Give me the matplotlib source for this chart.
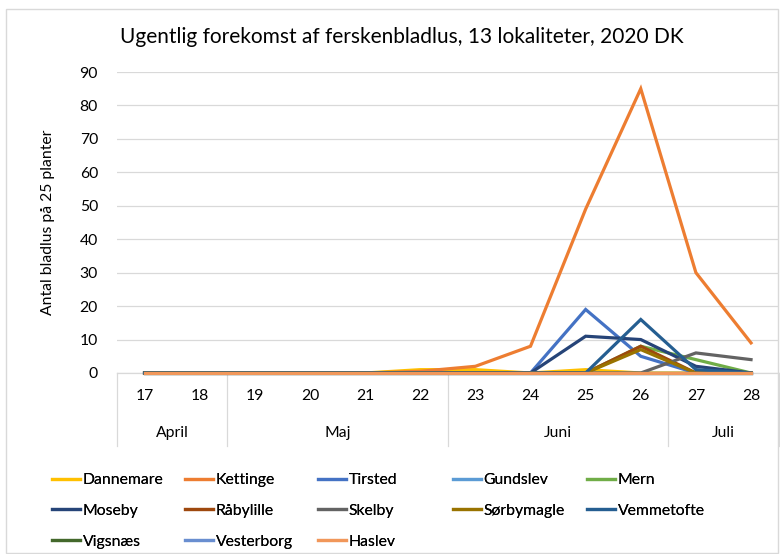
import matplotlib
matplotlib.use("Agg")
import matplotlib.pyplot as plt
from matplotlib.lines import Line2D

plt.rcParams['font.family'] = ['Lato', 'DejaVu Sans']

weeks = ["17", "18", "19", "20", "21", "22", "23", "24", "25", "26", "27", "28"]
months = ["April", "Maj", "Juni", "Juli"]
month_spans = [2, 4, 4, 2]

series_names = ["Dannemare", "Kettinge", "Tirsted", "Gundslev", "Mern",
                "Moseby", "Råbylille", "Skelby", "Sørbymagle", "Vemmetofte",
                "Vigsnæs", "Vesterborg", "Haslev"]

dannemare  = [0, 0, 0, 0, 0, 1, 1, 0, 1, 0, 0, 0]
kettinge   = [0, 0, 0, 0, 0, 0.5, 2, 8, 49, 85, 30, 9]
tirsted    = [0, 0, 0, 0, 0, 0, 0, 0, 19, 5, 0, 0]
gundslev   = [0, 0, 0, 0, 0, 0, 0, 0, 0, 0, 0, 0]
mern       = [0, 0, 0, 0, 0, 0, 0, 0, 0, 8, 4, 0]
moseby     = [0, 0, 0, 0, 0, 0, 0, 0, 11, 10, 2, 0]
raabylille = [0, 0, 0, 0, 0, 0, 0, 0, 0, 8, 0, 0]
skelby     = [0, 0, 0, 0, 0, 0, 0, 0, 0, 0, 6, 4]
soerbymagle = [0, 0, 0, 0, 0, 0, 0, 0, 0, 7, 0, 0]
vemmetofte = [0, 0, 0, 0, 0, 0, 0, 0, 0, 16, 1, 0]
vigsnaes   = [0, 0, 0, 0, 0, 0, 0, 0, 0, 0, 0, 0]
vesterborg = [0, 0, 0, 0, 0, 0, 0, 0, 0, 0, 0, 0]
haslev     = [0, 0, 0, 0, 0, 0, 0, 0, 0, 0, 0, 0]

series_values = [dannemare, kettinge, tirsted, gundslev, mern, moseby, raabylille,
                 skelby, soerbymagle, vemmetofte, vigsnaes, vesterborg, haslev]
colors = ["#FFC000", "#ED7D31", "#4472C4", "#5B9BD5", "#70AD47", "#264478",
          "#9E480E", "#636363", "#997300", "#255E91", "#43682B", "#698ED0", "#F1975A"]

W, H = 780, 554
FS = 11.3
fig = plt.figure(figsize=(W / 100, H / 100), dpi=100)
fig.patch.set_facecolor("white")

# chart border
fig.add_artist(plt.Rectangle((6 / W, 1 / H), 772 / W, 544 / H, fill=False,
                             edgecolor="#D9D9D9", linewidth=1, transform=fig.transFigure))

left, right = 117 / W, 778.6 / W
bottom, top = 1 - 373 / H, 1 - 72 / H
ax = fig.add_axes([left, bottom, right - left, top - bottom])

x = list(range(len(weeks)))
handles = []
for name, vals, c in zip(series_names, series_values, colors):
    ln, = ax.plot(x, vals, color=c, linewidth=2.3, label=name, solid_joinstyle="miter",
                  clip_on=False, zorder=3)
    handles.append(ln)

ax.set_xlim(-0.5, len(weeks) - 0.5)
ax.set_ylim(0, 90)
ax.set_yticks(range(0, 91, 10))
ax.tick_params(axis="y", length=0, labelsize=FS, pad=13.7, colors="#000000")
ax.set_xticks([])
ax.yaxis.grid(True, color="#D9D9D9", linewidth=0.9)
ax.set_axisbelow(True)
for s in ["left", "right", "top"]:
    ax.spines[s].set_visible(False)
ax.spines["bottom"].set_color("#D9D9D9")
ax.spines["bottom"].set_linewidth(0.9)

ax.set_ylabel("Antal bladlus på 25 planter", fontsize=FS, labelpad=18)

# multi-level category axis
tr = ax.get_xaxis_transform()
sep_bottom = -73 / 301
for i, w in enumerate(weeks):
    ax.text(i, -23 / 301, w, transform=tr, ha="center", va="center", fontsize=FS)
pos = -0.5
ax.add_line(Line2D([pos, pos], [0, sep_bottom], transform=tr, color="#D9D9D9",
                   linewidth=0.9, clip_on=False))
for m, span in zip(months, month_spans):
    ax.text(pos + span / 2, -60 / 301, m, transform=tr, ha="center", va="center",
            fontsize=FS)
    pos += span
    ax.add_line(Line2D([pos, pos], [0, sep_bottom], transform=tr, color="#D9D9D9",
                       linewidth=0.9, clip_on=False))

fig.text(402 / W, 1 - 37 / H, "Ugentlig forekomst af ferskenbladlus, 13 lokaliteter, 2020 DK",
         ha="center", va="center", fontsize=15)

# legend: 5 columns, row-major order like Excel
ncol = 5
col_x = [52, 185, 318, 453, 587]
for c in range(ncol):
    hs = handles[c::ncol]
    lg = fig.legend(handles=hs, labels=[h.get_label() for h in hs], loc="upper left",
                    bbox_to_anchor=(col_x[c] / W, 1 - 473 / H), frameon=False,
                    borderpad=0, borderaxespad=0, handlelength=1.8, handletextpad=0.15,
                    labelspacing=1.08, fontsize=FS)
    fig.add_artist(lg)

fig.savefig("out.png", dpi=100, facecolor="white")
